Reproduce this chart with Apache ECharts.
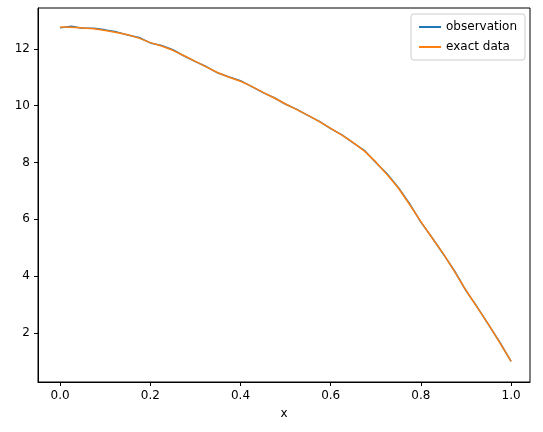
<!DOCTYPE html><html><head><meta charset="utf-8"><script src="https://cdn.jsdelivr.net/npm/echarts@6/dist/echarts.min.js"></script></head><body style="margin:0"><div id="c" style="width:543px;height:432px"></div><script>
const xs=[0,0.025,0.05,0.075,0.1,0.125,0.15,0.175,0.2,0.225,0.25,0.275,0.3,0.325,0.35,0.375,0.4,0.425,0.45,0.475,0.5,0.525,0.55,0.575,0.6,0.625,0.65,0.675,0.7,0.725,0.75,0.775,0.8,0.825,0.85,0.875,0.9,0.925,0.95,0.975,1.0];
const exact=[12.77,12.76,12.74,12.71,12.65,12.58,12.5,12.38,12.22,12.1,11.95,11.76,11.56,11.36,11.16,11.0,10.86,10.68,10.47,10.27,10.06,9.86,9.66,9.44,9.2,8.96,8.7,8.4,8.02,7.58,7.1,6.52,5.92,5.34,4.78,4.16,3.5,2.9,2.3,1.66,1.0];
const obs=[12.74,12.8,12.73,12.73,12.67,12.6,12.49,12.4,12.21,12.12,11.97,11.75,11.55,11.37,11.15,11.01,10.88,10.67,10.46,10.28,10.05,9.87,9.65,9.45,9.19,8.97,8.69,8.42,8.0,7.6,7.12,6.55,5.9,5.35,4.77,4.17,3.49,2.91,2.29,1.67,1.0];
const xt=[0,0.2,0.4,0.6,0.8,1.0], yt=[2,4,6,8,10,12];
const ax={axisLine:{lineStyle:{color:'#000'}},axisTick:{lineStyle:{color:'#000'},length:4},axisLabel:{color:'#000',fontSize:12,fontFamily:'DejaVu Sans'},splitLine:{show:false}};
echarts.init(document.getElementById('c')).setOption({animation:false,
grid:{left:38,right:13,top:8,bottom:50,show:true,borderColor:'#000',borderWidth:1},
legend:{right:18,top:14,orient:'vertical',itemWidth:22,itemHeight:2,itemGap:8,padding:[7,8],borderColor:'#ccc',borderWidth:1,borderRadius:3,textStyle:{fontSize:12,fontFamily:'DejaVu Sans',color:'#000'},icon:'rect',data:['observation','exact data']},
xAxis:{type:'value',min:-0.049,max:1.042,name:'x',nameLocation:'middle',nameGap:26,nameTextStyle:{fontSize:12,fontFamily:'DejaVu Sans',color:'#000'},...ax,axisTick:{...ax.axisTick,customValues:xt},axisLabel:{...ax.axisLabel,customValues:xt,formatter:v=>v.toFixed(1)},axisLine:{onZero:false,lineStyle:{color:'#000'}}},
yAxis:{type:'value',min:0.27,max:13.44,...ax,axisTick:{...ax.axisTick,customValues:yt},axisLabel:{...ax.axisLabel,customValues:yt},axisLine:{show:true,onZero:false,lineStyle:{color:'#000'}}},
series:[{name:'observation',type:'line',showSymbol:false,color:'#1f77b4',lineStyle:{width:1.5},data:xs.map((x,i)=>[x,obs[i]])},
{name:'exact data',type:'line',showSymbol:false,color:'#ff7f0e',lineStyle:{width:1.5},data:xs.map((x,i)=>[x,exact[i]])}]});
</script></body></html>
